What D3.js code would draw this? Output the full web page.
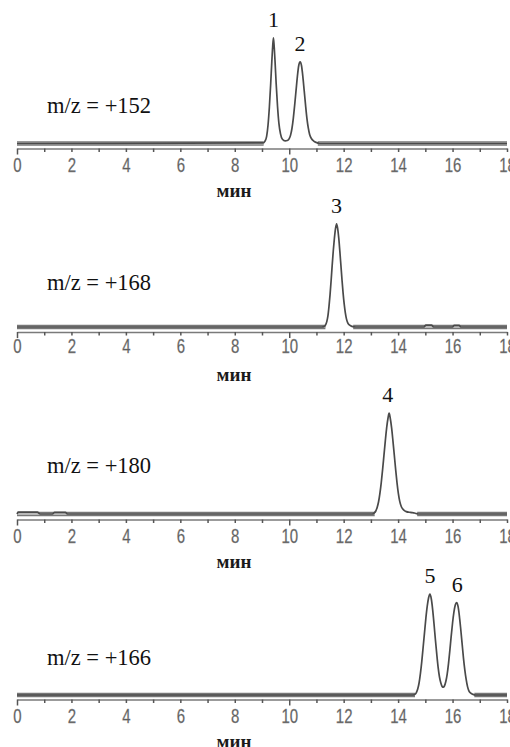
<!DOCTYPE html>
<html>
<head>
<meta charset="utf-8">
<script src="https://cdn.jsdelivr.net/npm/d3@7"></script>
<style>
  body { margin: 0; background: #fff; }
  svg { display: block; }
</style>
</head>
<body>
<svg id="chart" width="510" height="747"></svg>
<script>
// Ion chromatograms, one per m/z channel. [time (min), intensity (rel. units)]
const mzLabels = ['+152', '+168', '+180', '+166'];

const trace152 = [
  [0, 0], [9.04, 0.5], [9.11, 2], [9.17, 6], [9.22, 15], [9.27, 30], [9.32, 50], [9.36, 68], [9.39, 80],
  [9.42, 88], [9.45, 80], [9.48, 68], [9.52, 50], [9.57, 31], [9.62, 17], [9.68, 8], [9.75, 3.5], [9.85, 2.2],
  [9.93, 2.5], [10.0, 4], [10.05, 7], [10.1, 12.5], [10.15, 21], [10.2, 32], [10.25, 44], [10.3, 56], [10.35, 65],
  [10.4, 68], [10.45, 65], [10.5, 56], [10.55, 44], [10.6, 32], [10.65, 21], [10.7, 13], [10.75, 7.5], [10.82, 4],
  [10.9, 2], [11.0, 0.8], [11.12, 0], [18, 0]
];
const trace168 = [
  [0, 0], [11.2, 0], [11.28, 0.3], [11.33, 1.5], [11.38, 4.5], [11.42, 9], [11.46, 17], [11.5, 27], [11.54, 39],
  [11.58, 52], [11.62, 64], [11.66, 74], [11.7, 82], [11.74, 86], [11.78, 82], [11.82, 74], [11.86, 63], [11.9, 51],
  [11.94, 39], [11.98, 28], [12.02, 19], [12.06, 12], [12.1, 7], [12.15, 3.5], [12.22, 1.5], [12.3, 0.5], [12.45, 0],
  [14.95, 0], [15.02, 1.6], [15.23, 1.6], [15.3, 0], [16.0, 0], [16.06, 1.4], [16.24, 1.4], [16.3, 0], [18, 0]
];
const trace180 = [
  [0, 0], [0.05, 1.5], [0.75, 1.5], [0.85, 0], [1.3, 0], [1.38, 1.3], [1.78, 1.3], [1.85, 0],
  [13.05, 0], [13.12, 0.8], [13.18, 2.5], [13.23, 5.5], [13.28, 10], [13.33, 17], [13.38, 26], [13.43, 37], [13.48, 49],
  [13.53, 61], [13.58, 72], [13.63, 80], [13.67, 84], [13.71, 80], [13.76, 72], [13.81, 61], [13.86, 49], [13.91, 37],
  [13.96, 26], [14.01, 17], [14.06, 10.5], [14.12, 6], [14.2, 3.5], [14.3, 2], [14.45, 1.3], [14.6, 0.8], [14.75, 0],
  [18, 0]
];
const trace166 = [
  [0, 0], [14.55, 0], [14.62, 0.5], [14.67, 2], [14.72, 5], [14.77, 10], [14.82, 18], [14.87, 28], [14.92, 40],
  [14.97, 52], [15.02, 64], [15.07, 74], [15.12, 81], [15.17, 84], [15.22, 80], [15.27, 71], [15.32, 59], [15.37, 46],
  [15.42, 34], [15.47, 23], [15.52, 15], [15.57, 10], [15.62, 7], [15.66, 6.5], [15.7, 7.5], [15.75, 11], [15.8, 17],
  [15.85, 26], [15.9, 37], [15.95, 49], [16.0, 60], [16.05, 69], [16.1, 75], [16.15, 77], [16.2, 74], [16.25, 66],
  [16.3, 55], [16.35, 43], [16.4, 31], [16.45, 21], [16.5, 13], [16.55, 7], [16.6, 3.5], [16.67, 1.5], [16.75, 0.5],
  [16.85, 0], [18, 0]
];

// stretches where the noisy baseline shows as a thick band
const band152 = [[0, 9.06], [11.05, 18]];
const band168 = [[0, 11.33], [12.35, 18]];
const band180 = [[0, 13.14], [14.7, 18]];
const band166 = [[0, 14.62], [16.8, 18]];

// numbered peaks: [label, time, intensity]
const peaks152 = [['1', 9.42, 88], ['2', 10.4, 68]];
const peaks168 = [['3', 11.74, 86]];
const peaks180 = [['4', 13.62, 84]];
const peaks166 = [['5', 15.17, 84], ['6', 16.17, 77]];

const tickValues = d3.range(0, 19);
const tickLabels = [0, 2, 4, 6, 8, 10, 12, 14, 16, 18];

const traces = [trace152, trace168, trace180, trace166];
const bands = [band152, band168, band180, band166];
const peaks = [peaks152, peaks168, peaks180, peaks166];

// page layout for the four stacked panels
const layout = [
  { zeroY: 143.5, axisY: 148.5, labelY: 105, tickDy: 17, band: '#c4c4c4' },
  { zeroY: 327, axisY: 332, labelY: 282, tickDy: 14, band: '#b8b8b8' },
  { zeroY: 514, axisY: 519.5, labelY: 465, tickDy: 17, band: '#b8b8b8' },
  { zeroY: 695, axisY: 699.5, labelY: 657, tickDy: 17, band: '#888' }
];

const svg = d3.select('#chart');
svg.append('rect').attr('width', 510).attr('height', 747).attr('fill', '#fff');

const x = d3.scaleLinear().domain([0, 18]).range([17, 507]);

layout.forEach(function (p, i) {
  const y = d3.scaleLinear().domain([0, 100]).range([p.zeroY, p.zeroY - 120]);
  const g = svg.append('g');

  // axis
  const axis = d3.axisBottom(x)
    .tickValues(tickValues)
    .tickSize(3)
    .tickSizeOuter(0)
    .tickFormat(function (d) { return tickLabels.indexOf(d) >= 0 ? d : ''; });

  const ax = g.append('g')
    .attr('transform', 'translate(0,' + p.axisY + ')')
    .call(axis);
  ax.select('.domain').attr('stroke', '#7a7a7a').attr('stroke-width', 1.4);
  ax.selectAll('.tick line')
    .attr('stroke', '#555')
    .attr('stroke-width', 1.5)
    .attr('y2', function (d) { return (d === 0 || d === 10) ? 6 : 3.5; });
  ax.selectAll('.tick text')
    .attr('y', p.tickDy)
    .attr('dy', '0.35em')
    .attr('transform', 'scale(0.75,1)')
    .attr('fill', '#5e5e5e')
    .attr('stroke', '#8a8a8a')
    .attr('stroke-width', 0.3)
    .style('font-family', '"Liberation Sans", Arial, sans-serif')
    .style('font-size', '20px');

  // baseline noise band
  const bandLine = d3.line().x(function (d) { return x(d); }).y(y(0));
  bands[i].forEach(function (s) {
    g.append('path').attr('d', bandLine(s))
      .attr('stroke', '#777').attr('stroke-width', 4.5).attr('fill', 'none');
    g.append('path').attr('d', bandLine(s))
      .attr('stroke', p.band).attr('stroke-width', 1.8).attr('fill', 'none');
  });

  // trace
  const line = d3.line()
    .x(function (d) { return x(d[0]); })
    .y(function (d) { return y(d[1]); })
    .curve(d3.curveMonotoneX);
  g.append('path').datum(traces[i])
    .attr('d', line)
    .attr('fill', 'none')
    .attr('stroke', '#4a4a4a')
    .attr('stroke-width', 1.7)
    .attr('stroke-linejoin', 'round');

  // peak numbers
  g.selectAll('.peak').data(peaks[i]).enter().append('text')
    .attr('x', function (d) { return x(d[1]); })
    .attr('y', function (d) { return y(d[2]) - 11; })
    .attr('text-anchor', 'middle')
    .attr('fill', '#111')
    .style('font-family', '"Liberation Serif", "Times New Roman", serif')
    .style('font-size', '22px')
    .text(function (d) { return d[0]; });

  // channel label
  g.append('text')
    .attr('x', 47).attr('y', p.labelY).attr('dy', '0.35em')
    .attr('fill', '#111')
    .style('font-family', '"Liberation Serif", "Times New Roman", serif')
    .style('font-size', '22.5px')
    .text('m/z = ' + mzLabels[i]);

  // x axis title
  g.append('text')
    .attr('x', 234).attr('y', p.axisY + 42).attr('dy', '0.35em')
    .attr('text-anchor', 'middle')
    .attr('fill', '#1a1a1a')
    .style('font-family', '"Liberation Serif", "Times New Roman", serif')
    .style('font-size', '19px')
    .style('font-weight', 'bold')
    .text('мин');
});
</script>
</body>
</html>
